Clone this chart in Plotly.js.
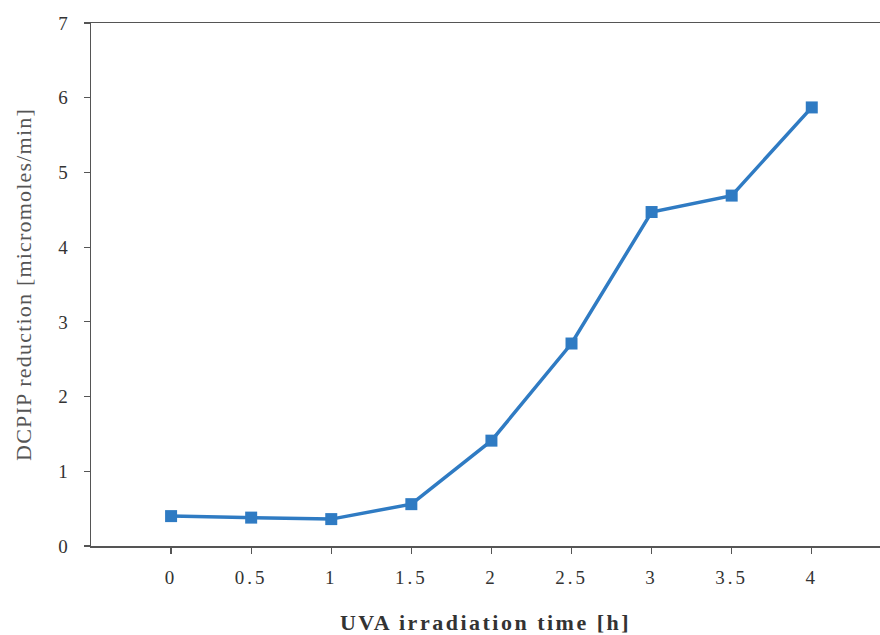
<!DOCTYPE html>
<html>
<head>
<meta charset="utf-8">
<script src="https://cdn.plot.ly/plotly-3.0.1.min.js"></script>
<style>
html,body{margin:0;padding:0;background:#fff;}
#chart{width:880px;height:635px;}
#chart .xtitle{letter-spacing:2.5px;}
#chart .ytitle{letter-spacing:1.2px;}
#chart .xtick text{letter-spacing:3px;}
</style>
</head>
<body>
<div id="chart"></div>
<script>
const timeHours = [0, 0.5, 1, 1.5, 2, 2.5, 3, 3.5, 4];
const dcpipReduction = [0.40, 0.38, 0.36, 0.56, 1.41, 2.71, 4.47, 4.69, 5.87];
const xTickVals = [0, 0.5, 1, 1.5, 2, 2.5, 3, 3.5, 4];
const xTickText = ["0", "0.5", "1", "1.5", "2", "2.5", "3", "3.5", "4"];
const yTickVals = [0, 1, 2, 3, 4, 5, 6, 7];

const serif = "Liberation Serif, Times New Roman, serif";

const trace = {
  x: timeHours,
  y: dcpipReduction,
  type: "scatter",
  mode: "lines+markers",
  line: {color: "#2f7bc3", width: 3.5},
  marker: {symbol: "square", size: 12, color: "#2f7bc3"},
  showlegend: false,
  hoverinfo: "x+y"
};

const layout = {
  width: 880,
  height: 635,
  margin: {l: 91, r: 0, t: 23, b: 89},
  paper_bgcolor: "#ffffff",
  plot_bgcolor: "#ffffff",
  xaxis: {
    range: [-0.5, 4.426],
    tickvals: xTickVals,
    ticktext: xTickText,
    ticks: "outside",
    ticklen: 6,
    tickwidth: 1.2,
    tickcolor: "#555",
    showline: true,
    linecolor: "#555",
    linewidth: 1.5,
    mirror: true,
    showgrid: false,
    zeroline: false,
    ticklabelstandoff: 8,
    tickfont: {family: serif, size: 19, color: "#333"},
    title: {
      text: "<b>UVA irradiation time [h]</b>",
      font: {family: serif, size: 22, color: "#333"},
      standoff: 28
    }
  },
  yaxis: {
    range: [0, 7],
    tickvals: yTickVals,
    ticks: "outside",
    ticklen: 6,
    tickwidth: 1.2,
    tickcolor: "#555",
    showline: true,
    linecolor: "#555",
    linewidth: 1.5,
    mirror: false,
    showgrid: false,
    zeroline: false,
    ticklabelstandoff: 12,
    tickfont: {family: serif, size: 19, color: "#333"},
    title: {
      text: "DCPIP reduction [micromoles/min]",
      font: {family: serif, size: 22, color: "#555"},
      standoff: 20
    }
  }
};

Plotly.newPlot("chart", [trace], layout, {displayModeBar: false, staticPlot: true});
</script>
</body>
</html>
